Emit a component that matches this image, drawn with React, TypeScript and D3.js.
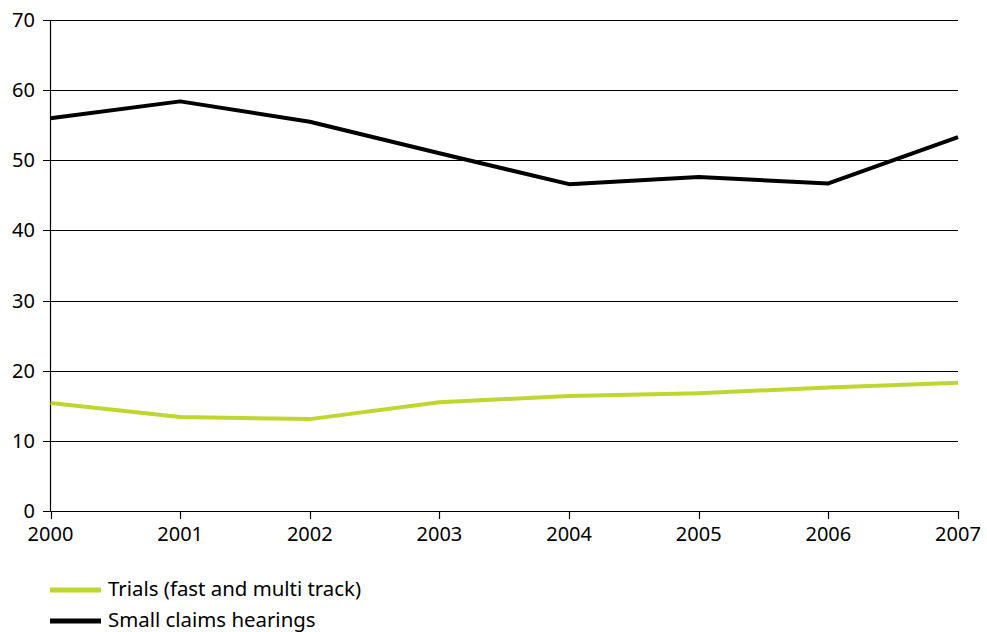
import React from "react";
import * as d3 from "d3";

const years = [2000, 2001, 2002, 2003, 2004, 2005, 2006, 2007];
const smallClaims = [56.0, 58.4, 55.5, 51.0, 46.6, 47.6, 46.7, 53.3];
const trials = [15.4, 13.4, 13.1, 15.5, 16.4, 16.8, 17.6, 18.3];
const yTicks = [0, 10, 20, 30, 40, 50, 60, 70];
const seriesNames = ["Trials (fast and multi track)", "Small claims hearings"];
const seriesColors = ["#bed630", "#000000"];

export default function App() {
  const W = 987, H = 632;
  const left = 50.5, right = 958, top = 20, bottom = 511;
  const x = d3.scaleLinear().domain([2000, 2007]).range([left, right]);
  const y = d3.scaleLinear().domain([0, 70]).range([bottom, top]);
  const line = d3
    .line<number>()
    .x((_, i) => x(years[i]))
    .y((d) => y(d));
  const font = "'Noto Sans', sans-serif";
  const series = [trials, smallClaims];
  return (
    <svg
      width={W}
      height={H}
      style={{ position: "absolute", left: 0, top: 0, background: "#fff" }}
      fontFamily={font}
    >
      {yTicks.map((t) => (
        <g key={t}>
          <line x1={43} x2={right} y1={Math.round(y(t)) + 0.5} y2={Math.round(y(t)) + 0.5} stroke="#000" strokeWidth={1} />
          <text x={35} y={y(t)} dy="0.35em" textAnchor="end" fontSize={20} fill="#000">
            {t}
          </text>
        </g>
      ))}
      <line x1={left} x2={left} y1={top} y2={bottom} stroke="#000" strokeWidth={1.2} />
      {years.map((yr) => (
        <g key={yr}>
          <line x1={Math.round(x(yr)) + 0.5} x2={Math.round(x(yr)) + 0.5} y1={bottom} y2={bottom + 8} stroke="#000" strokeWidth={1.2} />
          <text x={x(yr)} y={541} textAnchor="middle" fontSize={20} fill="#000">
            {yr}
          </text>
        </g>
      ))}
      {series.map((s, i) => (
        <path key={i} d={line(s) || ""} fill="none" stroke={seriesColors[i]} strokeWidth={4} strokeLinejoin="round" />
      ))}
      {seriesNames.map((n, i) => (
        <g key={n}>
          <line x1={50} x2={101} y1={590 + i * 31} y2={590 + i * 31} stroke={seriesColors[i]} strokeWidth={5} />
          <text x={108} y={596 + i * 31} fontSize={20.4} fill="#000">
            {n}
          </text>
        </g>
      ))}
    </svg>
  );
}
